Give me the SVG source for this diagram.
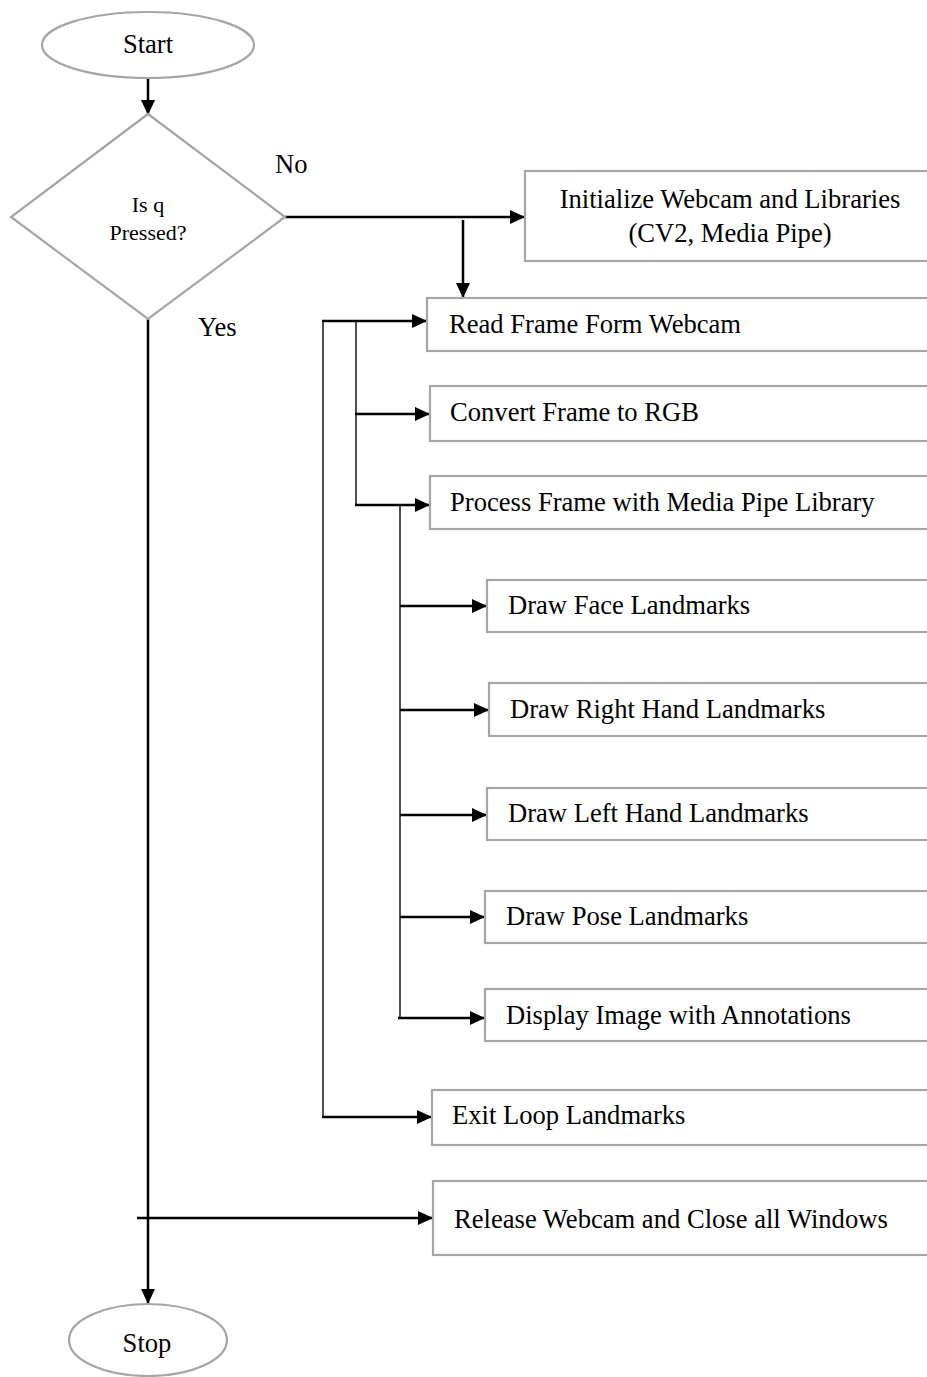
<svg xmlns="http://www.w3.org/2000/svg" width="927" height="1377" viewBox="0 0 927 1377">
<style>
.shape{fill:#fff;stroke:#a6a6a6;stroke-width:2.2}
.t{font-family:"Liberation Serif","Times New Roman",serif;font-size:26.6px;fill:#000}
.c{text-anchor:middle}
.d{font-size:22px}
.ln{stroke:#000;stroke-width:2.5;fill:none}
.thin{stroke:#222;stroke-width:1.6;fill:none}
</style>
<defs>
<marker id="ah" markerUnits="userSpaceOnUse" markerWidth="16" markerHeight="14" refX="14" refY="7" orient="auto">
<path d="M0,0 L15,7 L0,14 Z" fill="#000"/>
</marker>
</defs>
<rect width="927" height="1377" fill="#fff"/>
<g id="connectors">
<line class="ln" x1="148" y1="79" x2="148" y2="114" marker-end="url(#ah)"/>
<line class="ln" x1="285" y1="217" x2="524" y2="217" marker-end="url(#ah)"/>
<line class="ln" x1="463" y1="220" x2="463" y2="297" marker-end="url(#ah)"/>
<line class="ln" x1="148" y1="319" x2="148" y2="1303" marker-end="url(#ah)"/>
<line class="ln" x1="137" y1="1218" x2="432" y2="1218" marker-end="url(#ah)"/>
<line class="thin" x1="323" y1="321" x2="323" y2="1118"/>
<line class="ln" x1="322" y1="321" x2="426" y2="321" marker-end="url(#ah)"/>
<line class="thin" x1="356" y1="321" x2="356" y2="506"/>
<line class="ln" x1="355" y1="414" x2="429" y2="414" marker-end="url(#ah)"/>
<line class="ln" x1="355" y1="505" x2="429" y2="505" marker-end="url(#ah)"/>
<line class="thin" x1="400" y1="505" x2="400" y2="1019"/>
<line class="ln" x1="400" y1="606" x2="486" y2="606" marker-end="url(#ah)"/>
<line class="ln" x1="400" y1="710" x2="488" y2="710" marker-end="url(#ah)"/>
<line class="ln" x1="400" y1="815" x2="486" y2="815" marker-end="url(#ah)"/>
<line class="ln" x1="400" y1="917" x2="484" y2="917" marker-end="url(#ah)"/>
<line class="ln" x1="398" y1="1018" x2="484" y2="1018" marker-end="url(#ah)"/>
<line class="ln" x1="322" y1="1117" x2="431" y2="1117" marker-end="url(#ah)"/>
</g>
<g id="start">
<ellipse class="shape" cx="148" cy="45" rx="106" ry="33"/>
<text class="t c" x="148" y="53">Start</text>
</g>
<g id="decision">
<polygon class="shape" points="148,114 285,217 148,319 11,217"/>
<text class="t c d" x="148" y="212">Is q</text>
<text class="t c d" x="148" y="240">Pressed?</text>
</g>
<g id="labels">
<text class="t" x="275" y="173">No</text>
<text class="t" x="198" y="336">Yes</text>
</g>
<g id="init">
<rect class="shape" x="525" y="171" width="420" height="90"/>
<text class="t c" x="730" y="208">Initialize Webcam and Libraries</text>
<text class="t c" x="730" y="242">(CV2, Media Pipe)</text>
</g>
<g id="read">
<rect class="shape" x="427" y="298" width="520" height="53"/>
<text class="t" x="449" y="333">Read Frame Form Webcam</text>
</g>
<g id="convert">
<rect class="shape" x="430" y="386" width="520" height="55"/>
<text class="t" x="450" y="421">Convert Frame to RGB</text>
</g>
<g id="process">
<rect class="shape" x="430" y="476" width="520" height="53"/>
<text class="t" x="450" y="511">Process Frame with Media Pipe Library</text>
</g>
<g id="face">
<rect class="shape" x="487" y="580" width="460" height="52"/>
<text class="t" x="508" y="614">Draw Face Landmarks</text>
</g>
<g id="righthand">
<rect class="shape" x="489" y="683" width="460" height="53"/>
<text class="t" x="510" y="718">Draw Right Hand Landmarks</text>
</g>
<g id="lefthand">
<rect class="shape" x="487" y="788" width="460" height="52"/>
<text class="t" x="508" y="822">Draw Left Hand Landmarks</text>
</g>
<g id="pose">
<rect class="shape" x="485" y="891" width="460" height="52"/>
<text class="t" x="506" y="925">Draw Pose Landmarks</text>
</g>
<g id="display">
<rect class="shape" x="485" y="989" width="460" height="52"/>
<text class="t" x="506" y="1024">Display Image with Annotations</text>
</g>
<g id="exit">
<rect class="shape" x="432" y="1090" width="520" height="55"/>
<text class="t" x="452" y="1124">Exit Loop Landmarks</text>
</g>
<g id="release">
<rect class="shape" x="433" y="1181" width="520" height="74"/>
<text class="t" x="454" y="1228">Release Webcam and Close all Windows</text>
</g>
<g id="stop">
<ellipse class="shape" cx="148" cy="1340" rx="79" ry="36"/>
<text class="t c" x="147" y="1352">Stop</text>
</g>
</svg>
